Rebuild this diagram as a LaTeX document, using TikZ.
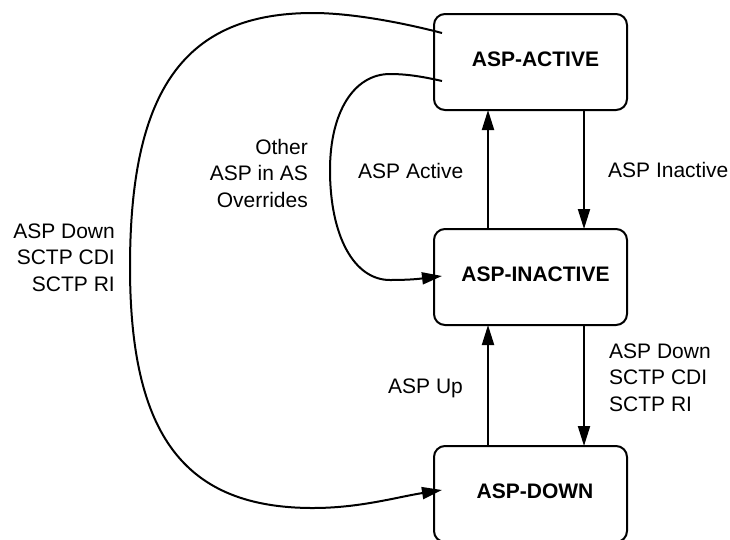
\documentclass[tikz,border=0pt]{standalone}
\usepackage{fontspec}
\setmainfont{Liberation Sans}
\usetikzlibrary{arrows.meta}
\begin{document}
\begin{tikzpicture}[x=1pt,y=-1pt,
  state/.style={draw, line width=2pt, rounded corners=11pt, minimum width=193pt,
    minimum height=96pt, inner sep=0pt, outer sep=0pt,
    font=\fontsize{21}{26}\selectfont\bfseries, text height=9pt, text depth=0pt},
  lbl/.style={inner sep=0pt, font=\fontsize{21}{26.5}\selectfont},
  conn/.style={line width=2pt, -{Triangle[length=20pt,width=12pt]}},
]
\path[use as bounding box, fill=white] (0,0) rectangle (730,539);

\node[state] (active) at (530.5,62) {\hspace*{10pt}ASP-ACTIVE};
\node[state] (inactive) at (530.5,277) {\hspace*{10pt}ASP-INACTIVE};
\node[state] (down) at (530.5,494) {\hspace*{9pt}ASP-DOWN};

\node[lbl, anchor=base west] (lActive) at (358,178) {ASP Active};
\node[lbl, anchor=base west] (lInactive) at (608,177) {ASP Inactive};
\node[lbl, anchor=base west] (lUp) at (388,393) {ASP Up};
\node[lbl, anchor=base west, align=left] (lDownR) at (609,411) {ASP Down\\SCTP CDI\\SCTP RI};
\node[lbl, anchor=base east, align=right] (lDownL) at (115,291) {ASP Down\\SCTP CDI\\SCTP RI};
\node[lbl, anchor=base east, align=right] (lOther) at (308,207) {Other\\ASP in AS\\Overrides};

\draw[conn] ([xshift=-42.5pt]inactive.north) -- ([xshift=-42.5pt]active.south);
\draw[conn] ([xshift=53.5pt]active.south) -- ([xshift=53.5pt]inactive.north);
\draw[conn] ([xshift=-42.5pt]down.north) -- ([xshift=-42.5pt]inactive.south);
\draw[conn] ([xshift=53.5pt]inactive.south) -- ([xshift=53.5pt]down.north);

\draw[conn] ([xshift=8pt,yshift=29pt]active.west) .. controls (400,22) and (350,13) .. (313,13)
  .. controls (185,13) and (130,89) .. (130,267)
  .. controls (130,436) and (185,508) .. (313,508)
  .. controls (360,508) and (397,497) .. ([xshift=8pt,yshift=4pt]down.west);

\draw[conn] ([xshift=8pt,yshift=-19pt]active.west) .. controls (420,76) and (405,74) .. (390,74)
  .. controls (354,74) and (330,112) .. (330,170)
  .. controls (330,236) and (354,280) .. (390,280)
  .. controls (415,280) and (425,278) .. ([xshift=8pt,yshift=1pt]inactive.west);
\end{tikzpicture}
\end{document}
